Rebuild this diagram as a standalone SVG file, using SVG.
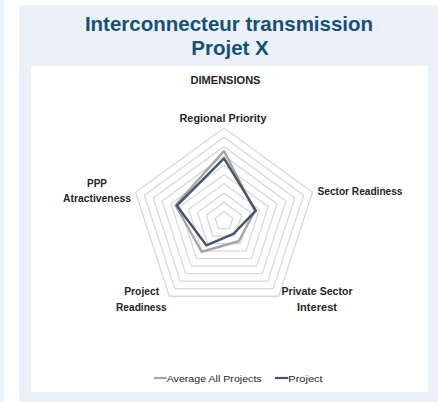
<svg xmlns="http://www.w3.org/2000/svg" width="438" height="402" viewBox="0 0 438 402">
<style>
.bg{fill:#EAF1F9}
.title{font-family:"Liberation Sans",Arial,sans-serif;font-weight:bold;font-size:20.5px;fill:#1B4F72;text-anchor:middle}
.lbl{font-family:"Liberation Sans",Arial,sans-serif;font-weight:bold;font-size:10.5px;fill:#262626;text-anchor:middle}
.leg{font-family:"Liberation Sans",Arial,sans-serif;font-size:9.5px;fill:#262626}
.ring{fill:none;stroke:#D9D9D9;stroke-width:1.3}
.avg{fill:none;stroke:#A5A5A5;stroke-width:2.4;stroke-linejoin:round}
.prj{fill:none;stroke:#44546A;stroke-width:2.4;stroke-linejoin:round}
</style>
<rect class="bg" x="0" y="0" width="4" height="402"/>
<rect class="bg" x="19" y="5" width="419" height="397"/>
<rect x="31" y="66" width="397" height="326" fill="#FFFFFF"/>
<g id="title">
<text class="title" x="229" y="31">Interconnecteur transmission</text>
<text class="title" x="230" y="55">Projet X</text>
</g>
<g id="chart-title"><text class="lbl" x="225.5" y="84" textLength="70" lengthAdjust="spacingAndGlyphs">DIMENSIONS</text></g>
<g id="grid">
<polygon class="ring" points="224,211.7 232.85,218.13 229.47,228.52 218.53,228.52 215.15,218.13"/>
<polygon class="ring" points="224,202.4 241.69,215.25 234.93,236.05 213.07,236.05 206.31,215.25"/>
<polygon class="ring" points="224,193.1 250.54,212.38 240.40,243.57 207.60,243.57 197.46,212.38"/>
<polygon class="ring" points="224,183.8 259.38,209.51 245.87,251.09 202.13,251.09 188.62,209.51"/>
<polygon class="ring" points="224,174.5 268.23,206.63 251.33,258.62 196.67,258.62 179.77,206.63"/>
<polygon class="ring" points="224,165.2 277.07,203.76 256.80,266.14 191.20,266.14 170.93,203.76"/>
<polygon class="ring" points="224,155.9 285.92,200.88 262.27,273.67 185.73,273.67 162.08,200.88"/>
<polygon class="ring" points="224,146.6 294.76,198.01 267.73,281.19 180.27,281.19 153.24,198.01"/>
<polygon class="ring" points="224,137.3 303.61,195.14 273.20,288.71 174.80,288.71 144.39,195.14"/>
<polygon class="ring" points="224,128 312.45,192.26 278.67,296.24 169.33,296.24 135.55,192.26"/>
</g>
<g id="series">
<polygon id="average" class="avg" points="224,151 254.91,210.96 238.70,241.23 201.66,251.74 175.50,205.24"/>
<polygon id="project" class="prj" points="224,158.3 255.86,210.65 233.4,233.9 206.37,245.27 176.92,205.70"/>
</g>
<g id="axis-regional"><text class="lbl" x="223" y="121.5" textLength="87" lengthAdjust="spacingAndGlyphs">Regional Priority</text></g>
<g id="axis-sector"><text class="lbl" x="360" y="195" textLength="85" lengthAdjust="spacingAndGlyphs">Sector Readiness</text></g>
<g id="axis-private">
<text class="lbl" x="317" y="295" textLength="71" lengthAdjust="spacingAndGlyphs">Private Sector</text>
<text class="lbl" x="317" y="310.5" textLength="40" lengthAdjust="spacingAndGlyphs">Interest</text>
</g>
<g id="axis-project">
<text class="lbl" x="141.7" y="295" textLength="35" lengthAdjust="spacingAndGlyphs">Project</text>
<text class="lbl" x="141.4" y="310.5" textLength="50.7" lengthAdjust="spacingAndGlyphs">Readiness</text>
</g>
<g id="axis-ppp">
<text class="lbl" x="97" y="187" textLength="20" lengthAdjust="spacingAndGlyphs">PPP</text>
<text class="lbl" x="97" y="202.3" textLength="68" lengthAdjust="spacingAndGlyphs">Atractiveness</text>
</g>
<g id="legend">
<line x1="154" y1="378" x2="166.7" y2="378" stroke="#A5A5A5" stroke-width="2.2"/>
<text class="leg" x="166.7" y="381.5" textLength="95" lengthAdjust="spacingAndGlyphs">Average All Projects</text>
<line x1="275" y1="378" x2="288.3" y2="378" stroke="#44546A" stroke-width="2.2"/>
<text class="leg" x="288.3" y="381.5" textLength="34.4" lengthAdjust="spacingAndGlyphs">Project</text>
</g>
</svg>
